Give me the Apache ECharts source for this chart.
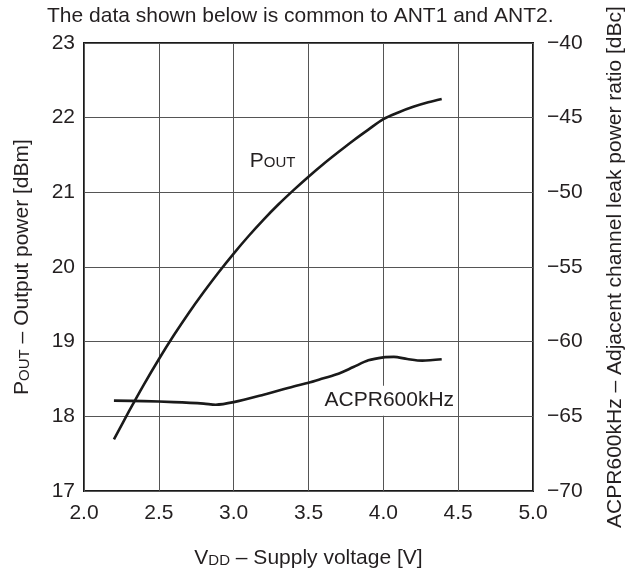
<!DOCTYPE html>
<html>
<head>
<meta charset="utf-8">
<script src="https://cdn.jsdelivr.net/npm/echarts@6/dist/echarts.min.js"></script>
<style>
  html, body { margin: 0; padding: 0; background: #fff; }
  #chart { width: 637px; height: 574px; }
</style>
</head>
<body>
<div id="chart"></div>
<script>
// supply voltage [V] and output power [dBm]
const poutVdd = [2.2, 2.3, 2.4, 2.5, 2.6, 2.7, 2.8, 2.9, 3.0, 3.1, 3.2, 3.3, 3.4, 3.5, 3.6, 3.7, 3.8, 3.9, 4.0, 4.1, 4.2, 4.3, 4.39];
const poutVals = [17.69, 18.065, 18.425, 18.765, 19.085, 19.385, 19.665, 19.93, 20.18, 20.415, 20.635, 20.84, 21.03, 21.21, 21.38, 21.54, 21.695, 21.84, 21.98, 22.07, 22.145, 22.205, 22.25];

// ACPR 600kHz [dBc]
const acprVdd = [2.2, 2.4, 2.6, 2.8, 2.88, 3.0, 3.2, 3.4, 3.5, 3.6, 3.7, 3.8, 3.9, 4.0, 4.07, 4.16, 4.26, 4.39];
const acprVals = [-63.95, -63.98, -64.05, -64.15, -64.22, -64.05, -63.55, -63.0, -62.75, -62.45, -62.15, -61.7, -61.25, -61.05, -61.02, -61.16, -61.27, -61.18];

const xTicks = [2.0, 2.5, 3.0, 3.5, 4.0, 4.5, 5.0];
const leftTicks = [17, 18, 19, 20, 21, 22, 23];
const rightTicks = [-70, -65, -60, -55, -50, -45, -40];

const FONT = "'Liberation Sans', Arial, sans-serif";
const TXT = '#231f20';

const chart = echarts.init(document.getElementById('chart'));

const pairs = (xs, ys) => xs.map((x, i) => [x, ys[i]]);

// big letter + small caps, used in axis names and the POUT label
const capsRich = {
  a: { fontSize: 21, color: TXT, fontFamily: FONT, verticalAlign: 'bottom', lineHeight: 23 },
  b: { fontSize: 15, color: TXT, fontFamily: FONT, verticalAlign: 'bottom', lineHeight: 23, padding: [0, 0, 1, 0] }
};

const option = {
  animation: false,
  backgroundColor: '#fff',
  textStyle: { fontFamily: FONT },
  title: {
    text: 'The data shown below is common to ANT1 and ANT2.',
    left: 47,
    top: 6,
    padding: 0,
    textStyle: { fontFamily: FONT, fontSize: 21, fontWeight: 'normal', color: TXT }
  },
  grid: {
    left: 84, right: 104, top: 43, bottom: 80,
    show: true, borderColor: '#1a1a1a', borderWidth: 2, backgroundColor: 'transparent'
  },
  xAxis: {
    type: 'value',
    min: xTicks[0], max: xTicks[xTicks.length - 1], interval: 0.5,
    axisLine: { show: false },
    axisTick: { show: false },
    splitLine: { lineStyle: { color: '#555', width: 1 } },
    axisLabel: {
      margin: 12, fontSize: 21, color: TXT, fontFamily: FONT,
      formatter: v => v.toFixed(1)
    },
    name: '{a|V}{b|DD}{a| – Supply voltage [V]}',
    nameLocation: 'middle',
    nameGap: 55,
    nameTextStyle: { rich: capsRich }
  },
  yAxis: [
    {
      type: 'value',
      min: leftTicks[0], max: leftTicks[leftTicks.length - 1], interval: 1,
      axisLine: { show: false },
      axisTick: { show: false },
      splitLine: { lineStyle: { color: '#555', width: 1 } },
      axisLabel: { margin: 9, fontSize: 21, color: TXT, fontFamily: FONT },
      name: '{a|P}{b|OUT}{a| – Output power [dBm]}',
      nameLocation: 'middle',
      nameRotate: 90,
      nameGap: 51,
      nameTextStyle: { rich: capsRich }
    },
    {
      type: 'value',
      position: 'right',
      min: rightTicks[0], max: rightTicks[rightTicks.length - 1], interval: 5,
      axisLine: { show: false },
      axisTick: { show: false },
      splitLine: { show: false },
      axisLabel: {
        margin: 14, fontSize: 21, color: TXT, fontFamily: FONT,
        formatter: v => String(v).replace('-', '\u2212')
      },
      name: 'ACPR600kHz – Adjacent channel leak power ratio [dBc]',
      nameLocation: 'middle',
      nameRotate: 90,
      nameGap: 72,
      nameTextStyle: { fontSize: 21, color: TXT, fontFamily: FONT }
    }
  ],
  series: [
    {
      name: 'POUT',
      type: 'line',
      yAxisIndex: 0,
      data: pairs(poutVdd, poutVals),
      smooth: 0.3,
      showSymbol: false,
      lineStyle: { color: '#1a1a1a', width: 2.6 },
      z: 3,
      markPoint: {
        symbol: 'circle', symbolSize: 0,
        data: [{ coord: [3.26, 21.43] }],
        label: {
          show: true, position: 'inside',
          formatter: '{a|P}{b|OUT}',
          rich: capsRich
        }
      }
    },
    {
      name: 'ACPR600kHz',
      type: 'line',
      yAxisIndex: 1,
      data: pairs(acprVdd, acprVals),
      smooth: 0.3,
      showSymbol: false,
      lineStyle: { color: '#1a1a1a', width: 2.6 },
      z: 3,
      markPoint: {
        symbol: 'circle', symbolSize: 0,
        data: [{ coord: [4.04, -63.95] }],
        label: {
          show: true, position: 'inside',
          formatter: 'ACPR600kHz',
          fontSize: 21, color: TXT, fontFamily: FONT,
          backgroundColor: '#fff',
          padding: [6, 2, 3, 2]
        }
      }
    }
  ]
};

chart.setOption(option);
</script>
</body>
</html>
